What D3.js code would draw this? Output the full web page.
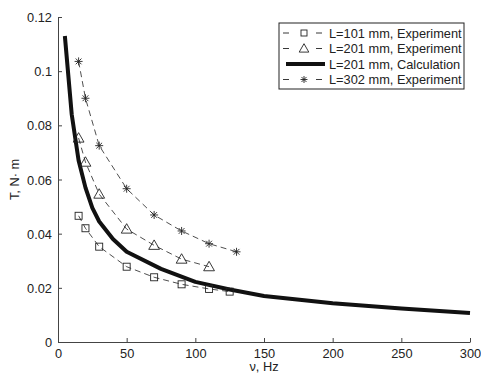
<!DOCTYPE html>
<html>
<head>
<meta charset="utf-8">
<script src="https://cdn.jsdelivr.net/npm/d3@7"></script>
<style>
  body { margin: 0; background: #fff; overflow: hidden; }
  svg { display: block; }
  text { font-family: "Liberation Sans", Arial, sans-serif; fill: #222; }
</style>
</head>
<body>
<div id="chart"></div>
<script>
// --------------------------------------
//  Data
// --------------------------------------
const nu101 = [15, 20, 30, 50, 70, 90, 110, 125];
const t101 = [0.0466, 0.042, 0.0352, 0.0278, 0.0239, 0.0213, 0.0196, 0.0186];

const nu201 = [15, 20, 30, 50, 70, 90, 110];
const t201 = [0.0753, 0.0664, 0.0546, 0.0417, 0.0357, 0.0306, 0.0278];

const nu302 = [15, 20, 30, 50, 70, 90, 110, 130];
const t302 = [0.1036, 0.090, 0.0725, 0.0566, 0.0469, 0.041, 0.0363, 0.0333];

const nuCalc = [5, 10, 15, 20, 25, 30, 40, 50, 75, 100, 125, 150, 200, 250, 300];
const tCalc = [0.113, 0.084, 0.067, 0.057, 0.0495, 0.0445, 0.038, 0.0333, 0.027, 0.0222, 0.0194, 0.017, 0.0143, 0.0124, 0.0107];

const xTicks = [0, 50, 100, 150, 200, 250, 300];
const yTicks = [0, 0.02, 0.04, 0.06, 0.08, 0.1, 0.12];
const legendLabels = ["L=101 mm, Experiment", "L=201 mm, Experiment", "L=201 mm, Calculation", "L=302 mm, Experiment"];

// --------------------------------------
//  Margin and canvas
// --------------------------------------
const width = 481, height = 376;
const margin = {top: 17, right: 11, bottom: 34, left: 58};
const innerWidth = width - margin.left - margin.right;
const innerHeight = height - margin.top - margin.bottom;

const svg = d3.select("#chart").append("svg")
  .attr("width", width).attr("height", height);

const g = svg.append("g")
  .attr("transform", `translate(${margin.left}, ${margin.top})`);

// --------------------------------------
//  Scales
// --------------------------------------
const x = d3.scaleLinear().domain([0, 300]).range([0, innerWidth]);
const y = d3.scaleLinear().domain([0, 0.12]).range([innerHeight, 0]);

// --------------------------------------
//  Axes
// --------------------------------------
const xAxis = g.append("g")
  .attr("transform", `translate(0, ${innerHeight})`)
  .call(d3.axisBottom(x).tickValues(xTicks).tickSize(-4).tickPadding(10).tickSizeOuter(0)
    .tickFormat(d3.format("d")));
xAxis.selectAll(".tick text").attr("dy", null).attr("y", 16);

const yAxis = g.append("g")
  .call(d3.axisLeft(y).tickValues(yTicks).tickSize(-4).tickPadding(6).tickSizeOuter(0)
    .tickFormat(d => d === 0 ? "0" : String(+d.toFixed(2))));
yAxis.selectAll(".tick text").attr("dy", null).attr("y", 4.5);

[xAxis, yAxis].forEach(a => {
  a.attr("font-size", 12.8);
  a.select(".domain").attr("stroke", "#444").attr("stroke-width", 1);
  a.selectAll(".tick line").attr("stroke", "#444");
  a.selectAll(".tick text").style("font-family", "Liberation Sans, Arial, sans-serif").attr("fill", "#222");
});

svg.append("text")
  .attr("x", margin.left + innerWidth / 2).attr("y", 371)
  .attr("text-anchor", "middle").attr("font-size", 12.8)
  .text("ν, Hz");

svg.append("text")
  .attr("transform", `translate(19, ${margin.top + innerHeight / 2}) rotate(-90)`)
  .attr("text-anchor", "middle").attr("font-size", 12.8)
  .text("T, N· m");

// --------------------------------------
//  Markers
// --------------------------------------
function drawSquare(sel, s) {
  sel.append("rect").attr("x", -s / 2).attr("y", -s / 2).attr("width", s).attr("height", s)
    .attr("fill", "none").attr("stroke", "#222").attr("stroke-width", 0.9);
}
function drawTriangle(sel, s) {
  sel.append("path").attr("d", `M0,${-s * 0.6}L${s * 0.6},${s * 0.45}L${-s * 0.6},${s * 0.45}Z`)
    .attr("fill", "none").attr("stroke", "#222").attr("stroke-width", 0.9);
}
function drawStar(sel, s) {
  const r = s / 2, d = r * 0.72;
  sel.append("path")
    .attr("d", `M${-r},0H${r}M0,${-r}V${r}M${-d},${-d}L${d},${d}M${-d},${d}L${d},${-d}`)
    .attr("fill", "none").attr("stroke", "#222").attr("stroke-width", 0.9);
}

const series = [
  {nu: nu101, t: t101, marker: drawSquare, size: 7},
  {nu: nu201, t: t201, marker: drawTriangle, size: 9},
  {nu: nu302, t: t302, marker: drawStar, size: 8}
];

const line = d3.line().x(d => x(d[0])).y(d => y(d[1]));

// Calculation line
g.append("path")
  .datum(nuCalc.map((n, i) => [n, tCalc[i]]))
  .attr("d", line)
  .attr("fill", "none").attr("stroke", "#111").attr("stroke-width", 4)
  .attr("stroke-linejoin", "round");

// Experiment series
series.forEach(s => {
  const pts = s.nu.map((n, i) => [n, s.t[i]]);
  g.append("path").datum(pts).attr("d", line)
    .attr("fill", "none").attr("stroke", "#222").attr("stroke-width", 0.8)
    .attr("stroke-dasharray", "6,4");
  g.append("g").selectAll("g").data(pts).join("g")
    .attr("transform", d => `translate(${x(d[0])}, ${y(d[1])})`)
    .each(function() { s.marker(d3.select(this), s.size); });
});

// --------------------------------------
//  Legend
// --------------------------------------
const legend = svg.append("g").attr("transform", "translate(279, 23)");
legend.append("rect").attr("width", 185).attr("height", 66)
  .attr("fill", "#fff").attr("stroke", "#222").attr("stroke-width", 1);

const legendMarkers = [drawSquare, drawTriangle, null, drawStar];
const legendSizes = [6, 8, 0, 7];
legendLabels.forEach((label, i) => {
  const row = legend.append("g").attr("transform", `translate(0, ${10 + i * 15.5})`);
  if (legendMarkers[i]) {
    row.append("line").attr("x1", 4).attr("x2", 10).attr("stroke", "#222").attr("stroke-width", 0.9);
    row.append("line").attr("x1", 37).attr("x2", 43).attr("stroke", "#222").attr("stroke-width", 0.9);
    const m = row.append("g").attr("transform", "translate(25, 0)");
    legendMarkers[i](m, legendSizes[i]);
  } else {
    row.append("line").attr("x1", 7).attr("x2", 46).attr("stroke", "#111").attr("stroke-width", 4);
  }
  row.append("text").attr("x", 50).attr("y", 4.5).attr("font-size", 12.8).text(label);
});
</script>
</body>
</html>
